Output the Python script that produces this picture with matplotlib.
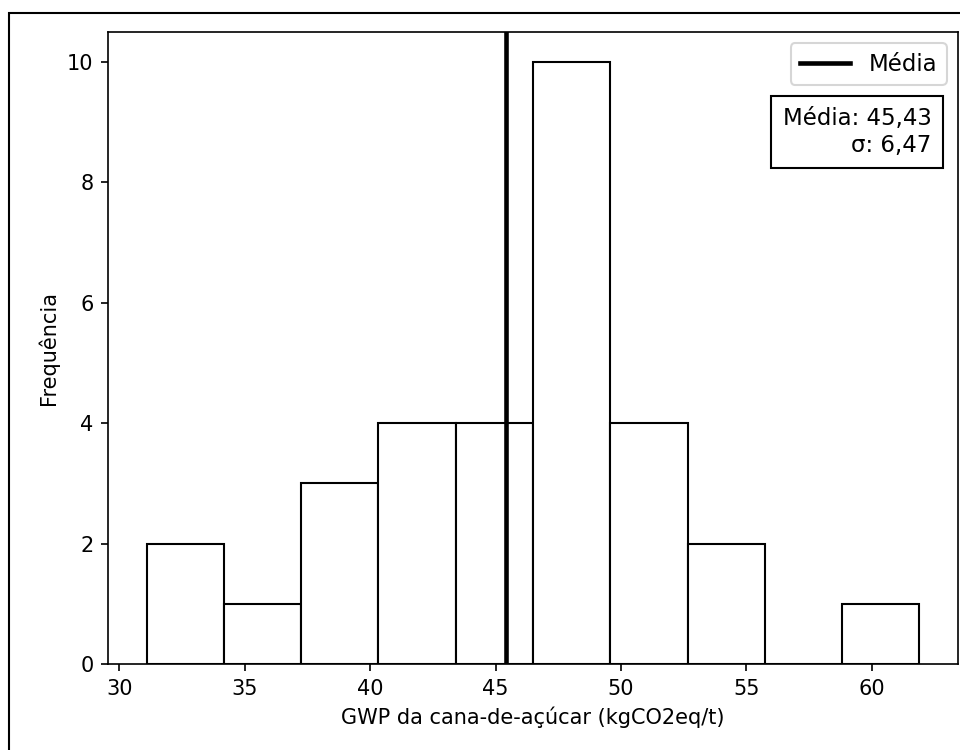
import matplotlib
matplotlib.use("Agg")
import matplotlib.pyplot as plt
from matplotlib.patches import Rectangle

# histogram bins
bin_edges = [31.09, 34.17, 37.25, 40.33, 43.41, 46.49,
             49.57, 52.65, 55.73, 58.81, 61.89]
counts = [2, 1, 3, 4, 4, 10, 4, 2, 0, 1]

media = 45.43
desvio = 6.47

fig = plt.figure(figsize=(6.4, 5.0), dpi=150)

# outer frame of the screenshot (cropped at right and bottom)
fig.patches.append(
    Rectangle(
        (9 / 960, -0.5),
        1.5,
        0.5 + (750 - 13) / 750,
        transform=fig.transFigure,
        fill=False,
        edgecolor="black",
        linewidth=1,
        clip_on=False
    )
)

ax = fig.add_axes([0.1125, 0.1147, 0.8854, 0.8426])

ax.hist(
    bin_edges[:-1],
    bins=bin_edges,
    weights=counts,
    facecolor="white",
    edgecolor="black"
)

ax.axvline(
    media,
    color="black",
    linewidth=2.2,
    label="Média"
)

ax.set_xlabel("GWP da cana-de-açúcar (kgCO2eq/t)")
ax.set_ylabel("Frequência")

ax.legend(loc="upper right", fontsize=11, handlelength=2.2)

texto = f"Média: {media:.2f}\nσ: {desvio:.2f}".replace(".", ",")

ax.text(
    0.969,
    0.881,
    texto,
    transform=ax.transAxes,
    ha="right",
    va="top",
    fontsize=11,
    multialignment="right",
    bbox=dict(boxstyle="square,pad=0.5", facecolor="white",
              edgecolor="black")
)

fig.savefig("out.png", dpi=150)
